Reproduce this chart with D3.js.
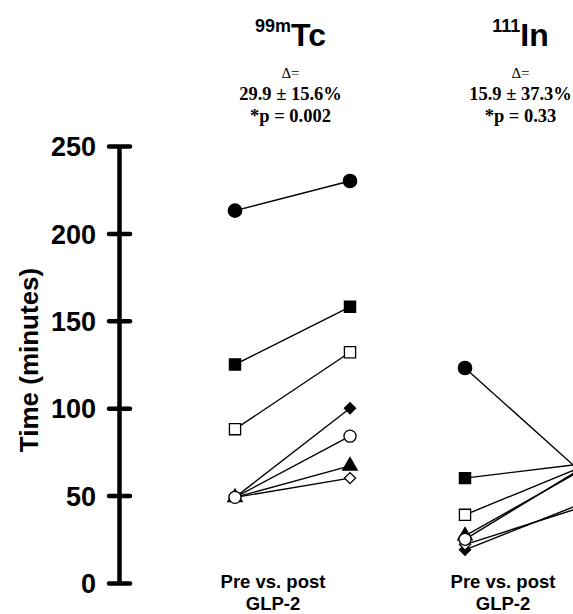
<!DOCTYPE html>
<html>
<head>
<meta charset="utf-8">
<script src="https://cdn.jsdelivr.net/npm/d3@7"></script>
<style>
  body { margin: 0; background: #fff; }
  svg { display: block; }
  text { fill: #000; }
</style>
</head>
<body>
<svg width="573" height="614"></svg>
<script>
// subjects, one marker each
const markers = ['filledCircle', 'filledSquare', 'openSquare', 'filledDiamond', 'openCircle', 'filledTriangle', 'openDiamond'];
const positions = ['Tc pre', 'Tc post', 'In pre', 'In post'];
const tcPre  = [213, 125, 88, 49, 49, 49, 49];
const tcPost = [230, 158, 132, 100, 84, 67, 60];
const inPre  = [123, 60, 39, 19, 25, 27, 22];
const inPost = [64, 68, 66, 45, 65, 64, 43];
const yTicks = [0, 50, 100, 150, 200, 250];

const panels = [
    { iso: '99m', el: 'Tc', delta: '29.9 \u00b1 15.6%', p: '*p = 0.002', pre: tcPre, post: tcPost, keys: ['Tc pre', 'Tc post'] },
    { iso: '111', el: 'In', delta: '15.9 \u00b1 37.3%', p: '*p = 0.33', pre: inPre, post: inPost, keys: ['In pre', 'In post'] }
];
// draw order of markers (last one ends on top)
const drawOrder = [0, 1, 2, 3, 5, 6, 4];

var svg = d3.select('svg');

var y = d3.scaleLinear().domain([0, 250]).range([583, 146]);
var x = d3.scalePoint().domain(positions).range([235, 580]);

// y axis
var axis = svg.append('g')
    .attr('transform', 'translate(119,0)')
    .call(d3.axisLeft(y).tickValues(yTicks).tickSize(0).tickPadding(23));
axis.select('.domain').attr('stroke', '#000').attr('stroke-width', 4.5);
axis.selectAll('.tick text')
    .attr('font-family', 'Liberation Sans, Arial, sans-serif')
    .attr('font-weight', 'bold')
    .attr('font-size', 27)
    .attr('dy', '0.36em');
axis.selectAll('.tick').append('line')
    .attr('x1', -10).attr('x2', 11)
    .attr('stroke', '#000').attr('stroke-width', 4.5)
    .attr('stroke-linecap', 'round');

svg.append('text')
    .attr('transform', 'translate(38,360) rotate(-90)')
    .attr('text-anchor', 'middle')
    .attr('font-family', 'Liberation Sans, Arial, sans-serif')
    .attr('font-weight', 'bold')
    .attr('font-size', 26)
    .text('Time (minutes)');

function drawMarker(g, type, cx, cy) {
    var filled = type.indexOf('filled') === 0;
    var shape = type.replace('filled', '').replace('open', '');
    var sym = { Circle: d3.symbolCircle, Square: d3.symbolSquare, Diamond: d3.symbolSquare, Triangle: d3.symbolTriangle }[shape];
    var size = { Circle: filled ? 140 : 115, Square: 125, Diamond: 62, Triangle: 90 }[shape];
    g.append('path')
        .attr('d', d3.symbol().type(sym).size(size)())
        .attr('transform', `translate(${cx},${cy})` + (shape === 'Diamond' ? ' rotate(45)' : ''))
        .attr('fill', filled ? '#000' : '#fff')
        .attr('stroke', '#000')
        .attr('stroke-width', 1.3);
}

panels.forEach(panel => {
    var x0 = x(panel.keys[0]), x1 = x(panel.keys[1]);
    var cx = (x0 + x1) / 2;
    var g = svg.append('g');

    // title with superscript isotope number
    var t = g.append('text')
        .attr('x', cx - 2).attr('y', 46)
        .attr('text-anchor', 'middle')
        .attr('font-family', 'Liberation Sans, Arial, sans-serif')
        .attr('font-weight', 'bold');
    t.append('tspan').attr('font-size', 18).attr('dy', -14).text(panel.iso);
    t.append('tspan').attr('font-size', 32).attr('dy', 14).text(panel.el);

    var stats = g.append('g')
        .attr('font-family', 'Liberation Serif, Times New Roman, serif')
        .attr('text-anchor', 'middle');
    stats.append('text').attr('x', cx - 2).attr('y', 78).attr('font-size', 15).text('\u0394=');
    stats.append('text').attr('x', cx - 2).attr('y', 100).attr('font-size', 18.5).attr('font-weight', 'bold').text(panel.delta);
    stats.append('text').attr('x', cx - 2).attr('y', 122).attr('font-size', 18.5).attr('font-weight', 'bold').text(panel.p);

    // connecting lines
    markers.forEach((m, i) => {
        g.append('line')
            .attr('x1', x0).attr('y1', y(panel.pre[i]))
            .attr('x2', x1).attr('y2', y(panel.post[i]))
            .attr('stroke', '#000').attr('stroke-width', 1.4);
    });
    // markers, pre and post
    drawOrder.forEach(i => {
        drawMarker(g, markers[i], x0, y(panel.pre[i]));
        drawMarker(g, markers[i], x1, y(panel.post[i]));
    });

    var lab = g.append('g')
        .attr('font-family', 'Liberation Sans, Arial, sans-serif')
        .attr('font-weight', 'bold')
        .attr('font-size', 18.5)
        .attr('text-anchor', 'middle');
    lab.append('text').attr('x', x0 + 38).attr('y', 588).text('Pre vs. post');
    lab.append('text').attr('x', x0 + 38).attr('y', 610).text('GLP-2');
});
</script>
</body>
</html>
